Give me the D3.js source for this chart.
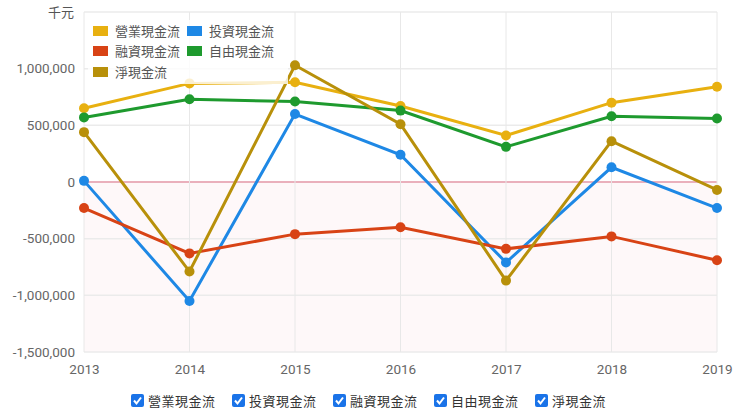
<!DOCTYPE html>
<html>
<head>
<meta charset="utf-8">
<script src="https://cdn.jsdelivr.net/npm/d3@7"></script>
<style>
  body { margin: 0; background: #fff; font-family: "Noto Sans CJK TC", "Noto Sans", sans-serif; }
  .axis text { fill: #666; font-size: 13.5px; font-family: Roboto, "Liberation Sans", sans-serif; }
  .axis path, .axis line { display: none; }
</style>
</head>
<body>
<svg id="chart" width="740" height="418"></svg>
<script>
// data (千元)
var years = ["2013", "2014", "2015", "2016", "2017", "2018", "2019"];
var seriesNames = ["營業現金流", "投資現金流", "融資現金流", "自由現金流", "淨現金流"];
var seriesColors = ["#e8b010", "#1e88e5", "#d84315", "#1e9a2e", "#b8900a"];
var operating = [650000, 870000, 880000, 670000, 410000, 700000, 840000];
var investing = [10000, -1050000, 600000, 240000, -710000, 130000, -230000];
var financing = [-230000, -630000, -460000, -400000, -590000, -480000, -690000];
var freeCash = [570000, 730000, 710000, 630000, 310000, 580000, 560000];
var netCash = [440000, -790000, 1030000, 510000, -870000, 360000, -70000];
var yTicks = [-1500000, -1000000, -500000, 0, 500000, 1000000, 1500000];

var allSeries = [operating, investing, financing, freeCash, netCash];

var svg = d3.select("#chart");
var margin = {top: 12, right: 23, bottom: 66, left: 84};
var width = 740 - margin.left - margin.right;
var height = 418 - margin.top - margin.bottom;
var g = svg.append("g").attr("transform", "translate(" + margin.left + "," + margin.top + ")");

var x = d3.scalePoint().domain(years).range([0, width]);
var y = d3.scaleLinear().domain([-1500000, 1500000]).range([height, 0]);

// faint pink area below zero
g.append("rect")
  .attr("x", 0).attr("y", y(0))
  .attr("width", width).attr("height", y(-1500000) - y(0))
  .attr("fill", "#fef8f9");

// grid
g.selectAll(".hgrid")
  .data(yTicks)
  .enter().append("line")
    .attr("x1", 0).attr("x2", width)
    .attr("y1", function(d) { return y(d); })
    .attr("y2", function(d) { return y(d); })
    .attr("stroke", function(d) { return d === 0 ? "#eab0bc" : "#ebebeb"; })
    .attr("stroke-width", function(d) { return d === 0 ? 2 : 1.5; });

g.selectAll(".vgrid")
  .data(years)
  .enter().append("line")
    .attr("x1", function(d) { return x(d); })
    .attr("x2", function(d) { return x(d); })
    .attr("y1", 0).attr("y2", height)
    .attr("stroke", "#e8e8e8");

// axes
g.append("g")
  .attr("class", "axis")
  .attr("transform", "translate(0," + height + ")")
  .call(d3.axisBottom(x).tickSize(0).tickPadding(12));

g.append("g")
  .attr("class", "axis")
  .call(d3.axisLeft(y).tickValues(yTicks.slice(0, -1)).tickSize(0).tickPadding(9)
    .tickFormat(function(d) { return d3.format(",")(d).replace("−", "-"); }));

svg.append("text")
  .attr("x", 74).attr("y", margin.top + 5)
  .attr("text-anchor", "end")
  .attr("fill", "#555")
  .style("font-size", "13px")
  .text("千元");

// lines
var line = d3.line()
  .x(function(d, i) { return x(years[i]); })
  .y(function(d) { return y(d); });

allSeries.forEach(function(vals, k) {
  g.append("path")
    .datum(vals)
    .attr("fill", "none")
    .attr("stroke", seriesColors[k])
    .attr("stroke-width", 3)
    .attr("d", line);
  g.selectAll(".pt" + k)
    .data(vals)
    .enter().append("circle")
      .attr("cx", function(d, i) { return x(years[i]); })
      .attr("cy", function(d) { return y(d); })
      .attr("r", 5)
      .attr("fill", seriesColors[k]);
});

// inner legend
var lg = svg.append("g").attr("transform", "translate(88,20)");
lg.append("rect")
  .attr("x", 0).attr("y", 0).attr("width", 200).attr("height", 64)
  .attr("fill", "#fff").attr("opacity", 0.8);
var legendPos = [[5, 11], [99, 11], [5, 31], [99, 31], [5, 52]];
seriesNames.forEach(function(name, k) {
  var it = lg.append("g").attr("transform", "translate(" + legendPos[k][0] + "," + legendPos[k][1] + ")");
  it.append("rect").attr("x", 0).attr("y", -5).attr("width", 15).attr("height", 10)
    .attr("fill", seriesColors[k]);
  it.append("text").attr("x", 22).attr("y", 0).attr("dy", "0.35em")
    .attr("fill", "#555").style("font-size", "13px").text(name);
});

// bottom checkbox legend
var bl = svg.append("g").attr("transform", "translate(131,401)");
seriesNames.forEach(function(name, k) {
  var it = bl.append("g").attr("transform", "translate(" + (k * 101) + ",0)");
  it.append("rect").attr("x", 0).attr("y", -7).attr("width", 13).attr("height", 13)
    .attr("rx", 2).attr("fill", "#1a73e8");
  it.append("path").attr("d", "M3,-0.5 L5.5,2.5 L10,-3.5")
    .attr("fill", "none").attr("stroke", "#fff").attr("stroke-width", 2);
  it.append("text").attr("x", 17).attr("y", 0).attr("dy", "0.35em")
    .attr("fill", "#333").style("font-size", "13px").style("letter-spacing", "0.5px").text(name);
});
</script>
</body>
</html>
